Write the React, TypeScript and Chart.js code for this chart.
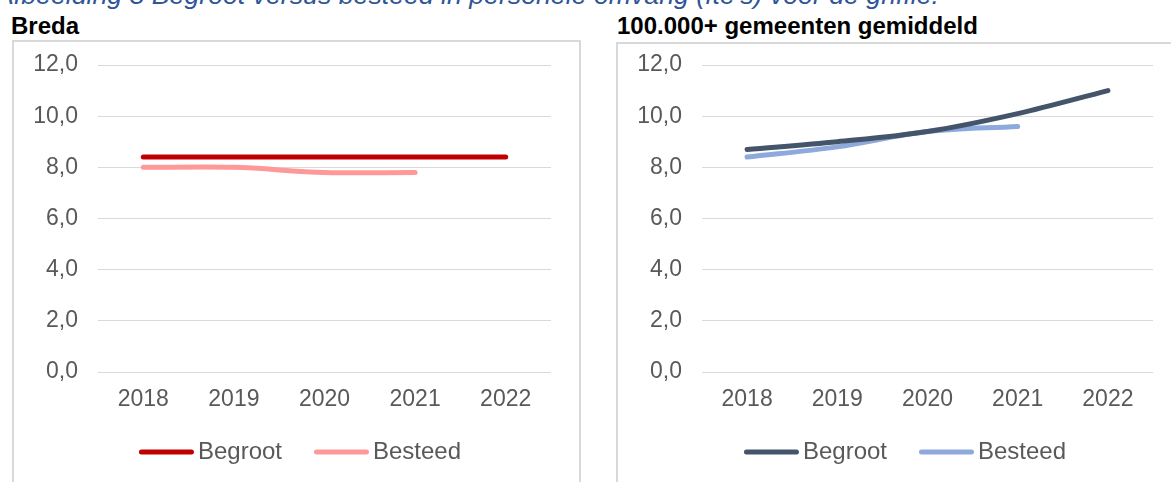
import React, { useEffect, useRef } from 'react';
import { Chart, registerables } from 'chart.js';

Chart.register(...registerables);

// ---- data ----
const categories = ['2018', '2019', '2020', '2021', '2022'];
const seriesLabels = ['Begroot', 'Besteed'];
const bredaBegroot = [8.4, 8.4, 8.4, 8.4, 8.4];
const bredaBesteed = [8.0, 8.0, 7.8, 7.8, null];
const gemBegroot = [8.7, 9.0, 9.4, 10.1, 11.0];
const gemBesteed = [8.4, 8.8, 9.4, 9.6, null];
const yMin = 0;
const yMax = 12;
const yStep = 2;

const captionText = 'Afbeelding  3 Begroot versus besteed in personele omvang (fte’s) voor de griffie.';
const leftTitle = 'Breda';
const rightTitle = '100.000+ gemeenten gemiddeld';

const FONT = "'Liberation Sans', Arial, Helvetica, sans-serif";
const TICK_COLOR = '#595959';

function makeLegendPlugin(centerX: number, centerY: number) {
  return {
    id: 'customLegend',
    afterDraw(chart: any) {
      const ctx = chart.ctx;
      ctx.save();
      ctx.font = `24px ${FONT}`;
      const lineInk = 55;
      const lw = 5;
      const textGap = 4;
      const itemGap = 32;
      const items = chart.data.datasets.map((ds: any) => ({
        label: ds.label,
        color: ds.borderColor,
        tw: ctx.measureText(ds.label).width,
      }));
      const total =
        items.reduce((s: number, it: any) => s + lineInk + textGap + it.tw, 0) +
        itemGap * (items.length - 1);
      let x = centerX - total / 2;
      for (const it of items) {
        ctx.strokeStyle = it.color;
        ctx.lineWidth = lw;
        ctx.lineCap = 'round';
        ctx.beginPath();
        ctx.moveTo(x + lw / 2, centerY);
        ctx.lineTo(x + lineInk - lw / 2, centerY);
        ctx.stroke();
        ctx.fillStyle = TICK_COLOR;
        ctx.textBaseline = 'middle';
        ctx.textAlign = 'left';
        ctx.fillText(it.label, x + lineInk + textGap, centerY);
        x += lineInk + textGap + it.tw + itemGap;
      }
      ctx.restore();
    },
  };
}

type PanelProps = {
  left: number;
  width: number;
  height: number;
  yAxisWidth: number;
  padRight: number;
  legendCenterX: number;
  series: { label: string; data: (number | null)[]; color: string }[];
};

function ChartPanel(props: PanelProps) {
  const ref = useRef<HTMLCanvasElement | null>(null);
  useEffect(() => {
    if (!ref.current) return;
    const chart = new Chart(ref.current, {
      type: 'line',
      data: {
        labels: categories,
        datasets: props.series.map((s) => ({
          label: s.label,
          data: s.data,
          borderColor: s.color,
          backgroundColor: s.color,
          borderWidth: 5,
          borderCapStyle: 'round',
          borderJoinStyle: 'round',
          pointRadius: 0,
          tension: 0.35,
          fill: false,
        })),
      },
      options: {
        responsive: false,
        animation: false,
        devicePixelRatio: 1,
        layout: { padding: { left: 0, right: props.padRight, top: 65, bottom: 88 } },
        plugins: {
          legend: { display: false },
          tooltip: { enabled: false },
          title: { display: false },
        },
        scales: {
          x: {
            type: 'category',
            offset: true,
            grid: { display: false, drawTicks: false },
            border: { display: false },
            ticks: {
              color: TICK_COLOR,
              font: { family: FONT, size: 23 },
              padding: 14,
              maxRotation: 0,
              autoSkip: false,
            },
            afterFit: (s: any) => {
              s.height = 60;
            },
          },
          y: {
            min: yMin,
            max: yMax,
            ticks: {
              stepSize: yStep,
              color: TICK_COLOR,
              font: { family: FONT, size: 23 },
              padding: 20,
              callback: (v: any) => Number(v).toFixed(1).replace('.', ','),
            },
            grid: { color: '#D9D9D9', lineWidth: 1, drawTicks: false },
            border: { display: false },
            afterFit: (s: any) => {
              s.width = props.yAxisWidth;
            },
          },
        },
      } as any,
      plugins: [makeLegendPlugin(props.legendCenterX, 452)],
    });
    return () => chart.destroy();
  }, []);
  return (
    <canvas
      ref={ref}
      width={props.width}
      height={props.height}
      style={{ position: 'absolute', left: props.left, top: 0, width: props.width, height: props.height }}
    />
  );
}

export default function App() {
  return (
    <div
      style={{
        position: 'absolute',
        left: 0,
        top: 0,
        width: 1171,
        height: 482,
        overflow: 'hidden',
        background: '#ffffff',
        fontFamily: FONT,
      }}
    >
      <div
        style={{
          position: 'absolute',
          left: -4,
          top: -18,
          whiteSpace: 'nowrap',
          fontStyle: 'italic',
          fontSize: 26.7,
          lineHeight: '27px',
          color: '#2F5597',
        }}
      >
        {captionText}
      </div>
      <div
        style={{
          position: 'absolute',
          left: 11,
          top: 14,
          fontWeight: 'bold',
          fontSize: 24,
          lineHeight: '24px',
          color: '#000',
          whiteSpace: 'nowrap',
        }}
      >
        {leftTitle}
      </div>
      <div
        style={{
          position: 'absolute',
          left: 617,
          top: 14,
          fontWeight: 'bold',
          fontSize: 24,
          lineHeight: '24px',
          color: '#000',
          whiteSpace: 'nowrap',
        }}
      >
        {rightTitle}
      </div>
      <div
        style={{
          position: 'absolute',
          left: 12,
          top: 40,
          width: 569,
          height: 500,
          boxSizing: 'border-box',
          border: '2px solid #D9D9D9',
        }}
      />
      <div
        style={{
          position: 'absolute',
          left: 616,
          top: 42,
          width: 600,
          height: 500,
          boxSizing: 'border-box',
          border: '2px solid #D9D9D9',
        }}
      />
      <ChartPanel
        left={0}
        width={600}
        height={520}
        yAxisWidth={98}
        padRight={49}
        legendCenterX={300}
        series={[
          { label: seriesLabels[0], data: bredaBegroot, color: '#C00000' },
          { label: seriesLabels[1], data: bredaBesteed, color: '#FF9999' },
        ]}
      />
      <ChartPanel
        left={600}
        width={571}
        height={520}
        yAxisWidth={102}
        padRight={18}
        legendCenterX={305}
        series={[
          { label: seriesLabels[0], data: gemBegroot, color: '#44546A' },
          { label: seriesLabels[1], data: gemBesteed, color: '#8EA9DB' },
        ]}
      />
    </div>
  );
}
